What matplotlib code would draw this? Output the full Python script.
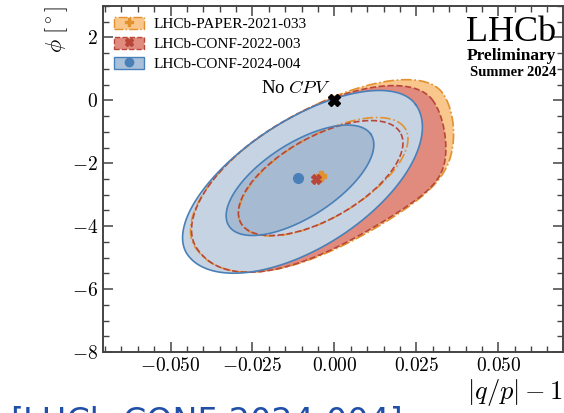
import numpy as np
import matplotlib
matplotlib.use('Agg')
import matplotlib.pyplot as plt
from matplotlib.patches import Patch
from matplotlib.lines import Line2D
from matplotlib.ticker import MultipleLocator, FuncFormatter

plt.rcParams['font.family'] = ['Liberation Serif', 'DejaVu Serif']
plt.rcParams['mathtext.fontset'] = 'cm'

labels = ['LHCb-PAPER-2021-033', 'LHCb-CONF-2022-003', 'LHCb-CONF-2024-004']

# best-fit points: |q/p|-1 and phi [deg]
best_x = [-0.0041, -0.0056, -0.0111]
best_y = [-2.41, -2.50, -2.48]

# contour shapes, x in units of 0.01, phi in degrees:
# centre, tilt [deg], half-lengths along the long axis (up-right, down-left),
# across it (upper-left side, lower-right side), and extra turn of the lower-right side
outer_cx = [-0.80, -0.80, -1.00]
outer_cy = [-2.45, -2.50, -2.52]
outer_tilt = [33.0, 33.0, 34.5]
outer_a_up = [4.90, 4.55, 4.22]
outer_a_down = [4.10, 4.05, 4.22]
outer_b_up = [1.90, 1.95, 1.85]
outer_b_down = [2.75, 2.75, 2.15]
outer_skew = [26.0, 30.0, 0.0]

inner_cx = [-0.40, -0.44, -1.05]
inner_cy = [-2.46, -2.48, -2.54]
inner_tilt = [31.5, 31.0, 34.3]
inner_a_up = [3.00, 2.85, 2.61]
inner_a_down = [2.85, 2.80, 2.61]
inner_b_up = [1.29, 1.29, 1.16]
inner_b_down = [1.29, 1.29, 1.16]
inner_skew = [0.0, 0.0, 0.0]

fill_outer = ['#f9c68c', '#e18b7e', '#c6d3e3']
fill_inner = ['#f9c68c', '#e18b7e', '#a6bad2']
edge_col = ['#e3912f', '#b8473a', '#4a80b8']
styles = ['-.', '--', '-']
markers = ['P', 'X', 'o']


def contour(cx, cy, tilt, a_up, a_down, b_up, b_down, skew, n=600):
    t = np.linspace(0, 2 * np.pi, n)
    c, s = np.cos(t), np.sin(t)
    u = c * np.where(c >= 0, a_up, a_down)
    v = s * np.where(s >= 0, b_up, b_down)
    th = np.radians(tilt)
    # across-direction turns towards +x on the lower side only
    tv = th + np.where(s < 0, np.radians(skew) * s ** 2, 0.0)
    x = cx + u * np.cos(th) - v * np.sin(tv)
    y = cy + u * np.sin(th) + v * np.cos(tv)
    return x * 0.01, y


def outer(i):
    return contour(outer_cx[i], outer_cy[i], outer_tilt[i], outer_a_up[i], outer_a_down[i],
                   outer_b_up[i], outer_b_down[i], outer_skew[i])


def inner(i):
    return contour(inner_cx[i], inner_cy[i], inner_tilt[i], inner_a_up[i], inner_a_down[i],
                   inner_b_up[i], inner_b_down[i], inner_skew[i])


fig = plt.figure(figsize=(5.64, 4.13), dpi=100)
ax = fig.add_axes([0.1826, 0.1477, 0.8154, 0.8378])

# filled regions, oldest result at the bottom
for i in range(3):
    x, y = outer(i)
    ax.fill(x, y, color=fill_outer[i], lw=0, zorder=1 + i)
xi, yi = inner(2)
ax.fill(xi, yi, color=fill_inner[2], lw=0, zorder=4)

# contour lines on top
for i in range(3):
    for x, y in (outer(i), inner(i)):
        ax.plot(x, y, color=edge_col[i], ls=styles[i], lw=1.2, zorder=5 + i)

for i in range(3):
    ax.plot(best_x[i], best_y[i], marker=markers[i], color=edge_col[i], ms=7,
            mec=edge_col[i], ls='none', zorder=10)

ax.plot(0, 0, marker='X', color='black', ms=9, ls='none', zorder=11)
ax.text(-0.0012, 0.1, r'No $CPV$', ha='right', va='bottom', fontsize=13.5)

ax.set_xlim(-0.0706, 0.0697)
ax.set_ylim(-8, 3)
ax.xaxis.set_major_locator(MultipleLocator(0.025))
ax.xaxis.set_minor_locator(MultipleLocator(0.005))
ax.yaxis.set_major_locator(MultipleLocator(2))
ax.yaxis.set_minor_locator(MultipleLocator(0.5))
ax.xaxis.set_major_formatter(FuncFormatter(lambda v, p: '$%.3f$' % v))
ax.yaxis.set_major_formatter(FuncFormatter(lambda v, p: '$%d$' % round(v)))
ax.tick_params(which='both', direction='in', top=True, right=True, labelsize=14,
               color='#444444')
ax.tick_params(which='major', length=7, width=1.1)
ax.tick_params(which='minor', length=4, width=1.0)
for s in ax.spines.values():
    s.set_linewidth(1.4)
    s.set_color('#444444')

ax.set_xlabel(r'$|q/p|-1$', fontsize=19, ha='right', x=1.0)
ax.set_ylabel(r'$\phi\ [^\circ]$', fontsize=16, ha='right', y=1.0)
ax.yaxis.set_label_coords(-0.072, 1.0)
ax.xaxis.set_label_coords(1.0, -0.072)

handles = []
for i in range(3):
    handles.append((Patch(facecolor=fill_outer[i] if i < 2 else '#a9c0da', edgecolor=edge_col[i],
                          ls=styles[i], lw=1.0),
                    Line2D([], [], marker=markers[i], color=edge_col[i], ls='none', ms=6)))
ax.legend(handles, labels, loc='upper left', frameon=False, fontsize=11,
          handlelength=2.0, handleheight=0.9, labelspacing=0.35,
          borderaxespad=0.3, handletextpad=0.6, bbox_to_anchor=(0.0, 1.0))

ax.text(0.985, 0.972, 'LHCb', transform=ax.transAxes, ha='right', va='top', fontsize=26)
ax.text(0.985, 0.880, 'Preliminary', transform=ax.transAxes, ha='right', va='top',
        fontsize=12.5, fontweight='bold')
ax.text(0.985, 0.826, 'Summer 2024', transform=ax.transAxes, ha='right', va='top',
        fontsize=10.5, fontweight='bold')

fig.text(0.018, 0.019, '[LHCb-CONF-2024-004]', color='#1f4fa8', fontsize=24,
         family='DejaVu Sans', ha='left', va='top')

fig.savefig('out.png', dpi=100)
